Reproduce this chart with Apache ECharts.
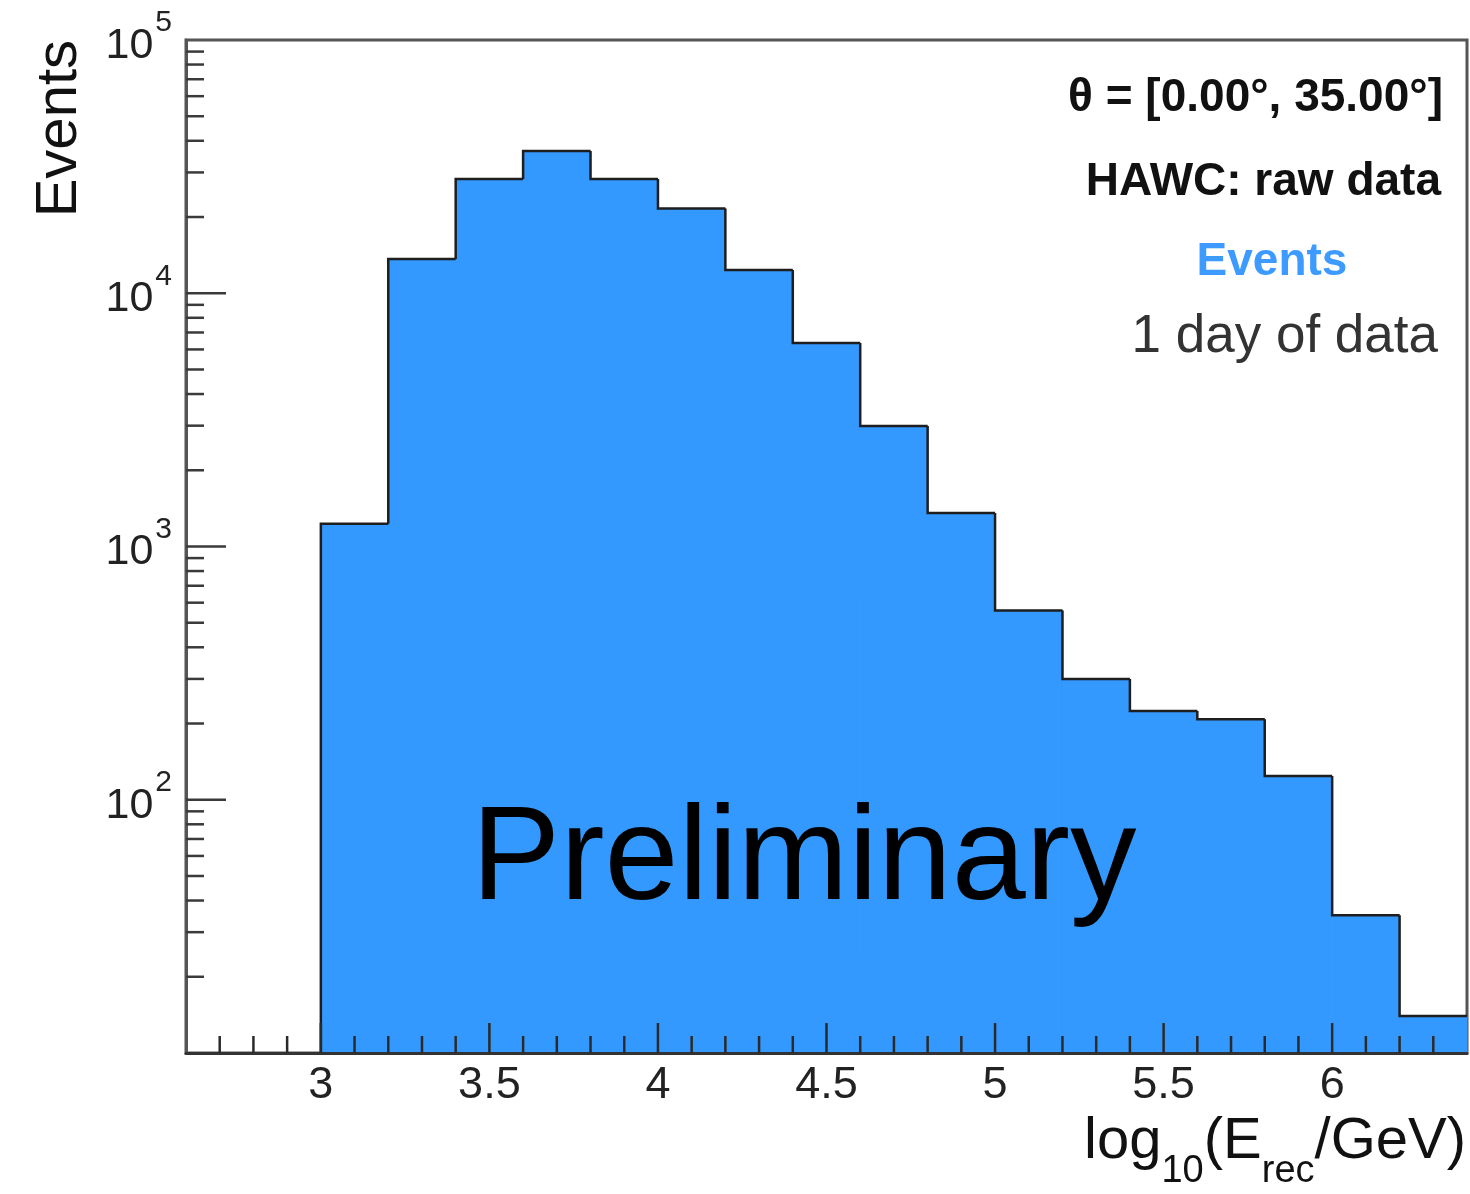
<!DOCTYPE html>
<html>
<head>
<meta charset="utf-8">
<title>HAWC reconstructed energy</title>
<script src="https://cdn.jsdelivr.net/npm/echarts@6/dist/echarts.min.js"></script>
<style>
  html, body { margin: 0; padding: 0; background: #ffffff; }
  #chart { width: 1470px; height: 1194px; }
</style>
</head>
<body>
<div id="chart"></div>
<script>
// Histogram bins: lower edges in log10(E/GeV), constant width
const BIN_LOW = [3.0, 3.2, 3.4, 3.6, 3.8, 4.0, 4.2, 4.4, 4.6, 4.8, 5.0, 5.2, 5.4, 5.6, 5.8, 6.0, 6.2];
const BIN_WIDTH = 0.2;
// Event counts per bin
const COUNTS = [1230, 13650, 28250, 36450, 28250, 21600, 12350, 6360, 2990, 1356, 559, 300, 224, 208, 124, 35, 14];

// Axis ranges and labelled ticks
const X_MIN = 2.6, X_MAX = 6.4;
const Y_MIN = 10, Y_MAX = 100000;
const X_TICK_LABELS = ['3', '3.5', '4', '4.5', '5', '5.5', '6'];
const Y_TICK_EXPONENTS = [2, 3, 4, 5];

const FONT = '"Liberation Sans", Arial, Helvetica, sans-serif';
const FILL = '#3399ff';

// Histogram items: [low edge, high edge, count, count of previous bin]
const histData = BIN_LOW.map((lo, i) => [lo, +(lo + BIN_WIDTH).toFixed(2), COUNTS[i], i === 0 ? Y_MIN : COUNTS[i - 1]]);

// Tick marks (ROOT style: drawn inside the frame)
const xTicks = [];
for (let i = Math.round(X_MIN * 10) + 1; i < Math.round(X_MAX * 10); i++) {
  xTicks.push([i / 10, i % 5 === 0 ? 30 : 17]);
}
const yTicks = [];
for (let e = 1; e <= 4; e++) {
  for (let m = 1; m <= 9; m++) {
    const v = m * Math.pow(10, e);
    if (v > Y_MIN) yTicks.push([v, m === 1 ? 40 : 18]);
  }
}

const chart = echarts.init(document.getElementById('chart'), null, { renderer: 'canvas' });

const option = {
  animation: false,
  backgroundColor: '#ffffff',
  grid: {
    left: 186, right: 2, top: 40, bottom: 141,
    show: true, borderColor: '#555555', borderWidth: 3, backgroundColor: 'transparent'
  },
  xAxis: {
    type: 'value',
    min: X_MIN, max: X_MAX, interval: 0.1,
    z: 5,
    axisLine: { show: true, lineStyle: { color: '#333333', width: 3 } },
    axisTick: { show: false },
    splitLine: { show: false },
    axisLabel: {
      margin: 10,
      fontFamily: FONT, fontSize: 45, color: '#222222',
      showMinLabel: true, showMaxLabel: true,
      formatter: function (v) {
        const s = String(Math.round(v * 10) / 10);
        return X_TICK_LABELS.indexOf(s) >= 0 ? s : '';
      }
    }
  },
  yAxis: {
    type: 'log', logBase: 10,
    min: Y_MIN, max: Y_MAX,
    z: 5,
    axisLine: { show: true, lineStyle: { color: '#555555', width: 3 } },
    axisTick: { show: false },
    splitLine: { show: false },
    axisLabel: {
      margin: 14,
      fontFamily: FONT, color: '#222222',
      formatter: function (v) {
        const e = Math.round(Math.log10(v));
        return Y_TICK_EXPONENTS.indexOf(e) >= 0 ? '{b|10}{s|' + e + '}' : '';
      },
      rich: {
        b: { fontFamily: FONT, fontSize: 43, color: '#222222', padding: [12, 0, 0, 0] },
        s: { fontFamily: FONT, fontSize: 30, color: '#222222', padding: [0, 0, 34, 2] }
      }
    }
  },
  series: [
    {
      // filled bins
      type: 'custom',
      z: 2,
      data: histData,
      renderItem: function (params, api) {
        const lo = api.value(0), hi = api.value(1), c = api.value(2);
        const pTop = api.coord([lo, c]);
        const pHi = api.coord([hi, c]);
        const pBase = api.coord([lo, Y_MIN]);
        return {
          type: 'rect',
          shape: { x: pTop[0], y: pTop[1], width: pHi[0] - pTop[0], height: pBase[1] - pTop[1] },
          style: { fill: FILL, stroke: FILL, lineWidth: 1 }
        };
      }
    },
    {
      // histogram outline
      type: 'custom',
      z: 3,
      data: histData,
      renderItem: function (params, api) {
        const lo = api.value(0), hi = api.value(1), c = api.value(2), prev = api.value(3);
        const pPrev = api.coord([lo, prev]);
        const pTop = api.coord([lo, c]);
        const pHi = api.coord([hi, c]);
        return {
          type: 'polyline',
          shape: { points: [[pPrev[0], pPrev[1]], [pTop[0], pTop[1]], [pHi[0], pHi[1]]] },
          style: { stroke: '#1e1e1e', lineWidth: 2.5, fill: null, lineJoin: 'miter' }
        };
      }
    },
    {
      // x-axis tick marks
      type: 'custom',
      z: 6,
      data: xTicks,
      renderItem: function (params, api) {
        const p = api.coord([api.value(0), Y_MIN]);
        const len = api.value(1);
        return {
          type: 'line',
          shape: { x1: p[0], y1: p[1], x2: p[0], y2: p[1] - len },
          style: { stroke: '#2a2a2a', lineWidth: 2.5 }
        };
      }
    },
    {
      // y-axis tick marks
      type: 'custom',
      z: 6,
      data: yTicks,
      renderItem: function (params, api) {
        const p = api.coord([X_MIN, api.value(0)]);
        const len = api.value(1);
        return {
          type: 'line',
          shape: { x1: p[0], y1: p[1], x2: p[0] + len, y2: p[1] },
          style: { stroke: '#3a3a3a', lineWidth: 2.5 }
        };
      }
    }
  ],
  graphic: [
    {
      type: 'text', z: 100, x: 60, y: 40, rotation: Math.PI / 2,
      style: { text: 'Events', fontFamily: FONT, fontSize: 58, fill: '#111111', align: 'right', verticalAlign: 'middle' }
    },
    {
      type: 'text', z: 100, x: 1466, y: 1142,
      style: {
        text: '{m|log}{s|10}{m|(E}{s|rec}{m|/GeV)}',
        align: 'right', verticalAlign: 'middle',
        rich: {
          m: { fontFamily: FONT, fontSize: 58, fill: '#111111' },
          s: { fontFamily: FONT, fontSize: 38, fill: '#111111', padding: [60, 0, 0, 0] }
        }
      }
    },
    {
      type: 'text', z: 100, x: 1443, y: 98,
      style: { text: 'θ = [0.00°, 35.00°]', fontFamily: FONT, fontWeight: 'bold', fontSize: 46, fill: '#111111', align: 'right', verticalAlign: 'middle' }
    },
    {
      type: 'text', z: 100, x: 1441, y: 182,
      style: { text: 'HAWC: raw data', fontFamily: FONT, fontWeight: 'bold', fontSize: 46, fill: '#111111', align: 'right', verticalAlign: 'middle' }
    },
    {
      type: 'text', z: 100, x: 1272, y: 262,
      style: { text: 'Events', fontFamily: FONT, fontWeight: 'bold', fontSize: 46, fill: '#3d9bff', align: 'center', verticalAlign: 'middle' }
    },
    {
      type: 'text', z: 100, x: 1438, y: 337,
      style: { text: '1 day of data', fontFamily: FONT, fontSize: 53, fill: '#333333', align: 'right', verticalAlign: 'middle' }
    },
    {
      type: 'text', z: 100, x: 804, y: 862,
      style: { text: 'Preliminary', fontFamily: FONT, fontSize: 133, fill: '#000000', align: 'center', verticalAlign: 'middle' }
    }
  ]
};

chart.setOption(option);
</script>
</body>
</html>
